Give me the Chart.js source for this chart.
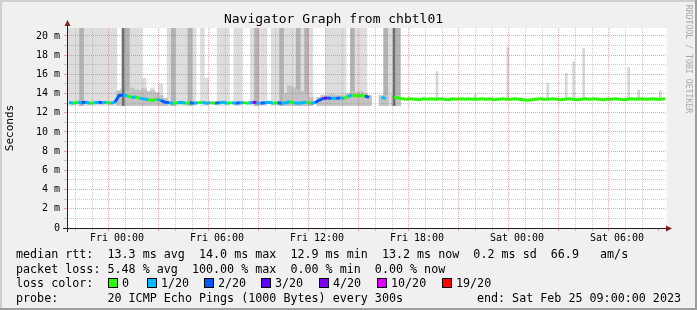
<!DOCTYPE html>
<html>
<head>
<meta charset="utf-8">
<script src="https://cdn.jsdelivr.net/npm/chart.js@4.4.0/dist/chart.umd.min.js"></script>
<style>
html, body { margin: 0; padding: 0; background: #f0f0f0; }
#wrap { position: relative; width: 697px; height: 310px; overflow: hidden; }
#graph { position: absolute; left: 0; top: 0; }
.leg { position: absolute; left: 16px; font: 11.7px "DejaVu Sans Mono", monospace; color: #000; white-space: pre; line-height: 14px; }
.box { position: absolute; top: 2px; width: 8px; height: 8px; border: 1px solid #000; }
</style>
</head>
<body>
<div id="wrap">
<canvas id="graph" width="697" height="310"></canvas>
<div class="leg" style="top:247px">median rtt:  13.3 ms avg  14.0 ms max  12.9 ms min  13.2 ms now  0.2 ms sd  66.9   am/s</div>
<div class="leg" style="top:261.5px">packet loss: 5.48 % avg  100.00 % max  0.00 % min  0.00 % now</div>
<div class="leg" id="lossRow" style="top:276px;width:600px;height:14px">loss color:</div>
<div class="leg" style="top:290.5px">probe:       20 ICMP Echo Pings (1000 Bytes) every 300s</div>
<div class="leg" style="top:290.5px;left:auto;right:16px">end: Sat Feb 25 09:00:00 2023</div>
</div>
<script>
// time axis in hours since Thu 21:00, one slot = 15 minutes
var slotHours = 0.25;
var smokeBase = 12.75;
var spikeBase = 13.3;
var yMax = 20.83;
var yTickTop = 20;

var tickHours = [3, 9, 15, 21, 27, 33];
var tickLabels = ['Fri 00:00', 'Fri 06:00', 'Fri 12:00', 'Fri 18:00', 'Sat 00:00', 'Sat 06:00'];

// median rtt (ms) per slot
var median = [
  13.1, 13.0, 13.1, 13.05, 13.1, 13.0, 13.05, 13.1, 13.05, 13.1, 13.0, 13.1,
  13.8, 13.85, 13.75, 13.6, 13.65, 13.5, 13.45, 13.35, 13.3, 13.4, 13.3, 13.1,
  13.05, 13.0, 13.05, 13.1, 13.0, 13.05, 13.0, 13.05, 13.1, 13.0, 13.05, 13.0,
  13.05, 13.1, 13.0, 13.05, 13.0, 13.05, 13.05, 13.0, 13.1, 13.05, 13.0, 13.05,
  13.1, 13.0, 13.05, 13.0, 13.05, 13.15, 13.05, 13.0, 13.05, 13.1, 13.0, 13.05,
  13.3, 13.5, 13.55, 13.5, 13.5, 13.55, 13.5, 13.7, 13.85, 13.75, 13.8, 13.75,
  13.6, null, null, 13.6, 13.5, null, 13.65, 13.55, 13.45, 13.4, 13.45, 13.4,
  13.35, 13.45, 13.4, 13.45, 13.4, 13.45, 13.4, 13.35, 13.45, 13.4, 13.45, 13.4,
  13.45, 13.4, 13.4, 13.45, 13.4, 13.45, 13.35, 13.4, 13.45, 13.4, 13.4, 13.45,
  13.4, 13.35, 13.3, 13.35, 13.4, 13.45, 13.4, 13.4, 13.45, 13.4, 13.35, 13.4,
  13.45, 13.4, 13.35, 13.4, 13.45, 13.4, 13.45, 13.4, 13.35, 13.4, 13.4, 13.45,
  13.4, 13.35, 13.4, 13.45, 13.4, 13.45, 13.4, 13.4, 13.45, 13.4, 13.4, 13.45
];

// lost pings out of 20 per slot
var loss = [
  3, 1, 0, 1, 2, 1, 0, 1, 2, 1, 0, 1,
  2, 2, 1, 0, 1, 0, 1, 1, 0, 0, 1, 2,
  2, 1, 0, 1, 1, 0, 2, 1, 0, 1, 1, 0,
  2, 1, 1, 0, 1, 2, 1, 0, 1, 4, 1, 2,
  1, 1, 0, 2, 1, 1, 0, 1, 1, 1, 0, 1,
  2, 2, 3, 2, 1, 2, 1, 0, 1, 0, 0, 0,
  2, null, null, 2, 1, null, 19, 0, 0, 0, 0, 0,
  0, 0, 0, 0, 0, 0, 0, 0, 0, 0, 0, 0,
  0, 0, 0, 0, 0, 0, 0, 0, 0, 0, 0, 0,
  0, 0, 0, 0, 0, 0, 0, 0, 0, 0, 0, 0,
  0, 0, 0, 0, 0, 0, 0, 0, 0, 0, 0, 0,
  0, 0, 0, 0, 0, 0, 0, 0, 0, 0, 0, 0
];

// top of the pale smoke per slot (ms)
var lightTop = [
  21, 21, 21, 21, 21, 21, 21, 21, 21, 21, 21, 21,
  null, 21, 21, 21, 21, 21, 15.6, null, 14.6, null, 15.0, null,
  21, 21, 21, 21, 21, 21, 21, null, 21, 15.6, null, null,
  21, 21, 21, null, 21, 21, null, null, 21, 21, 21, 21,
  null, 21, 21, 21, 21, 21, 21, 21, 21, 21, 21, null,
  null, null, 21, 21, 21, 21, 21, null, 21, 21, 21, 21,
  null, null, null, null, 21, 21, 21, 21
];

// top of the medium grey smoke per slot (ms)
var midTop = [
  null, null, null, 21, null, null, null, null, null, null, null, null,
  null, null, 21, null, null, null, null, null, null, null, null, null,
  null, 21, null, null, null, 21, null, null, null, null, null, null,
  null, null, null, null, null, null, null, null, null, 21, null, null,
  null, null, null, 21, null, null, null, 21, null, 21, null, null,
  null, null, null, null, null, null, null, null, 21, null, null, null,
  null, null, null, null, 21, null, null, 21
];

// top of the dark smoke per slot (ms)
var darkTop = [
  null, null, null, null, null, null, null, null, null, null, null, null,
  null, 21, null, null, null, null, null, null, null, null, null, null,
  null, null, null, null, null, null, null, null, null, null, null, null,
  null, null, null, null, null, null, null, null, null, null, null, null,
  null, null, null, null, null, null, null, null, null, null, null, null,
  null, null, null, null, null, null, null, null, null, null, null, null,
  null, null, null, null, null, null, 21
];

// top of the smoke close to the median per slot (ms)
var bandTop = [
  null, null, null, null, null, null, null, null, null, null, null, null,
  14.3, 14.5, 14.2, 14.6, 14.4, 14.3, 14.5, 14.2, 14.3, 14.1, 13.8, 13.5,
  null, null, null, null, null, null, null, null, null, null, null, null,
  null, null, null, null, null, null, null, null, null, null, null, null,
  null, null, null, null, 14.0, 14.8, 14.6, 14.4, 14.2, 13.9, 13.6, null,
  13.6, 13.8, 13.8, 13.9, 13.8, 13.8, 13.8, 14.0, 14.2, 14.1, 14.2, 14.0,
  13.8, null, null, 13.8, 13.8, null, 13.9, 13.8
];

// isolated smoke spikes in the quiet part
var spikeHours = [22.2, 24.5, 26.45, 28.85, 29.95, 30.4, 31.0, 33.7, 34.3, 35.6];
var spikeTop = [16.3, 13.9, 18.8, 15.1, 16.1, 17.3, 18.7, 16.7, 14.4, 14.3];

var lossSteps = [0, 1, 2, 3, 4, 10, 19];
var lossLabels = ['0', '1/20', '2/20', '3/20', '4/20', '10/20', '19/20'];
var lossColors = ['#26ff00', '#00b8ff', '#0059ff', '#5e00ff', '#7e00ff', '#dd00ff', '#ff0000'];

var MONO = '"DejaVu Sans Mono", monospace';
var GRID = 'rgba(143,143,143,0.45)';
var MGRID = 'rgba(222,80,80,0.5)';

function lossColor(n) {
    var c = lossColors[0];
    for (var k = 0; k < lossSteps.length; k++) {
        if (n >= lossSteps[k]) c = lossColors[k];
    }
    return c;
}

function slotX(i) { return i * slotHours + slotHours / 2; }

function floatBars(tops, base) {
    var out = [];
    for (var i = 0; i < tops.length; i++) {
        if (tops[i] != null) out.push({x: slotX(i), y: [base, tops[i]]});
    }
    return out;
}

var medianPts = [];
for (var i = 0; i < median.length; i++) {
    medianPts.push({x: slotX(i), y: median[i]});
}

var spikePts = [];
for (var j = 0; j < spikeHours.length; j++) {
    spikePts.push({x: spikeHours[j], y: [spikeBase, spikeTop[j]]});
}

// legend boxes for loss colours
var boxX = [92, 131, 188, 245, 303, 361, 426];
var row = document.getElementById('lossRow');
for (var k = 0; k < lossLabels.length; k++) {
    var b = document.createElement('span');
    b.className = 'box';
    b.style.left = boxX[k] + 'px';
    b.style.background = lossColors[k];
    row.appendChild(b);
    var t = document.createElement('span');
    t.style.position = 'absolute';
    t.style.left = (boxX[k] + 14) + 'px';
    t.textContent = lossLabels[k];
    row.appendChild(t);
}

var rrdFrame = {
    id: 'rrdFrame',
    beforeDraw: function(chart) {
        var ctx = chart.ctx, a = chart.chartArea, w = chart.width, h = chart.height;
        ctx.save();
        ctx.fillStyle = '#f0f0f0';
        ctx.fillRect(0, 0, w, h);
        ctx.fillStyle = '#cfcfcf';
        ctx.fillRect(0, 0, w, 2);
        ctx.fillRect(0, 0, 2, h);
        ctx.fillStyle = '#9e9e9e';
        ctx.fillRect(0, h - 2, w, 2);
        ctx.fillRect(w - 2, 0, 2, h);
        ctx.fillStyle = '#ffffff';
        ctx.fillRect(a.left, a.top, a.right - a.left, a.bottom - a.top);
        ctx.restore();
    },
    afterDraw: function(chart) {
        var ctx = chart.ctx, a = chart.chartArea;
        var l = Math.round(a.left) + 0.5, b = Math.round(a.bottom) + 0.5;
        ctx.save();
        ctx.strokeStyle = '#1f1f1f';
        ctx.lineWidth = 1;
        ctx.beginPath();
        ctx.moveTo(a.left - 4, b);
        ctx.lineTo(a.right + 2, b);
        ctx.moveTo(l, a.bottom + 4);
        ctx.lineTo(l, a.top - 3);
        ctx.stroke();
        ctx.fillStyle = '#7f1f1f';
        ctx.beginPath();
        ctx.moveTo(a.right - 1, b - 3);
        ctx.lineTo(a.right + 5, b);
        ctx.lineTo(a.right - 1, b + 3);
        ctx.closePath();
        ctx.fill();
        ctx.beginPath();
        ctx.moveTo(l - 3, a.top - 2);
        ctx.lineTo(l, a.top - 8);
        ctx.lineTo(l + 3, a.top - 2);
        ctx.closePath();
        ctx.fill();
        // watermark
        ctx.translate(chart.width - 9, 59);
        ctx.rotate(Math.PI / 2);
        ctx.font = '8.2px ' + MONO;
        ctx.fillStyle = '#a8a8a8';
        ctx.textAlign = 'center';
        ctx.textBaseline = 'middle';
        ctx.fillText('RRDTOOL / TOBI OETIKER', 0, 0);
        ctx.restore();
    }
};

function gridColor(ctx, major) {
    if (!ctx.tick) return 'rgba(0,0,0,0)';
    var v = ctx.tick.value;
    if (Math.abs(v - Math.round(v)) > 1e-6) return 'rgba(0,0,0,0)';
    return v % major === 0 ? MGRID : GRID;
}

new Chart(document.getElementById('graph'), {
    type: 'bar',
    data: {
        datasets: [{
            type: 'line',
            data: medianPts,
            borderWidth: 3,
            pointRadius: 0,
            spanGaps: false,
            order: 0,
            segment: {
                borderColor: function(ctx) { return lossColor(loss[ctx.p1DataIndex]); }
            }
        }, {
            data: floatBars(darkTop, smokeBase),
            backgroundColor: '#6e6e6e',
            barThickness: 2,
            grouped: false,
            clip: 0,
            order: 1
        }, {
            data: floatBars(bandTop, smokeBase),
            backgroundColor: '#c2c2c2',
            barThickness: 5,
            grouped: false,
            clip: 0,
            order: 2
        }, {
            data: floatBars(midTop, smokeBase),
            backgroundColor: '#b2b2b2',
            barThickness: 4,
            grouped: false,
            clip: 0,
            order: 3
        }, {
            data: floatBars(lightTop, smokeBase),
            backgroundColor: '#dddddd',
            barThickness: 4,
            grouped: false,
            clip: 0,
            order: 4
        }, {
            data: spikePts,
            backgroundColor: '#d6d6d6',
            barThickness: 2,
            grouped: false,
            clip: 0,
            order: 4
        }]
    },
    options: {
        responsive: false,
        animation: false,
        devicePixelRatio: 1,
        layout: { padding: { left: 0, right: 30, top: 0, bottom: 62 } },
        plugins: {
            legend: { display: false },
            tooltip: { enabled: false },
            title: {
                display: true,
                text: 'Navigator Graph from chbtl01',
                color: '#000',
                font: { family: MONO, size: 13, weight: 'normal', lineHeight: 1.2 },
                padding: { top: 12, bottom: 0.4 }
            }
        },
        scales: {
            x: {
                type: 'linear',
                min: 0,
                max: 36,
                offset: false,
                afterFit: function(scale) { scale.height = 20; },
                grid: {
                    z: 1,
                    drawTicks: true,
                    tickLength: 3,
                    color: function(ctx) {
                        if (ctx.tick && (ctx.tick.value === 0 || ctx.tick.value === 36)) return 'rgba(0,0,0,0)';
                        return gridColor(ctx, 3);
                    },
                    tickColor: function(ctx) { return gridColor(ctx, 3); }
                },
                border: { display: false, dash: [1, 1] },
                ticks: {
                    stepSize: 1,
                    autoSkip: false,
                    maxRotation: 0,
                    minRotation: 0,
                    padding: 1,
                    color: '#000',
                    font: { family: MONO, size: 10 },
                    callback: function(v) {
                        var k = tickHours.indexOf(v);
                        return k >= 0 ? tickLabels[k] : '';
                    }
                }
            },
            y: {
                min: 0,
                max: yMax,
                afterFit: function(scale) { scale.width = 67; },
                afterBuildTicks: function(scale) {
                    var t = [];
                    for (var v = 0; v <= yTickTop; v++) t.push({ value: v });
                    scale.ticks = t;
                },
                title: {
                    display: true,
                    text: 'Seconds',
                    color: '#000',
                    font: { family: MONO, size: 11, lineHeight: 1.2 },
                    padding: { top: 4, bottom: 0 }
                },
                grid: {
                    z: 1,
                    drawTicks: true,
                    tickLength: 3,
                    color: function(ctx) {
                        if (ctx.tick && ctx.tick.value === 0) return 'rgba(0,0,0,0)';
                        return gridColor(ctx, 2);
                    },
                    tickColor: function(ctx) { return gridColor(ctx, 2); }
                },
                border: { display: false, dash: [1, 1] },
                ticks: {
                    autoSkip: false,
                    padding: 4,
                    color: '#000',
                    font: { family: MONO, size: 10 },
                    callback: function(v) {
                        if (v === 0) return '0';
                        if (v % 2 !== 0) return '';
                        return v + ' m';
                    }
                }
            }
        }
    },
    plugins: [rrdFrame]
});
</script>
</body>
</html>
